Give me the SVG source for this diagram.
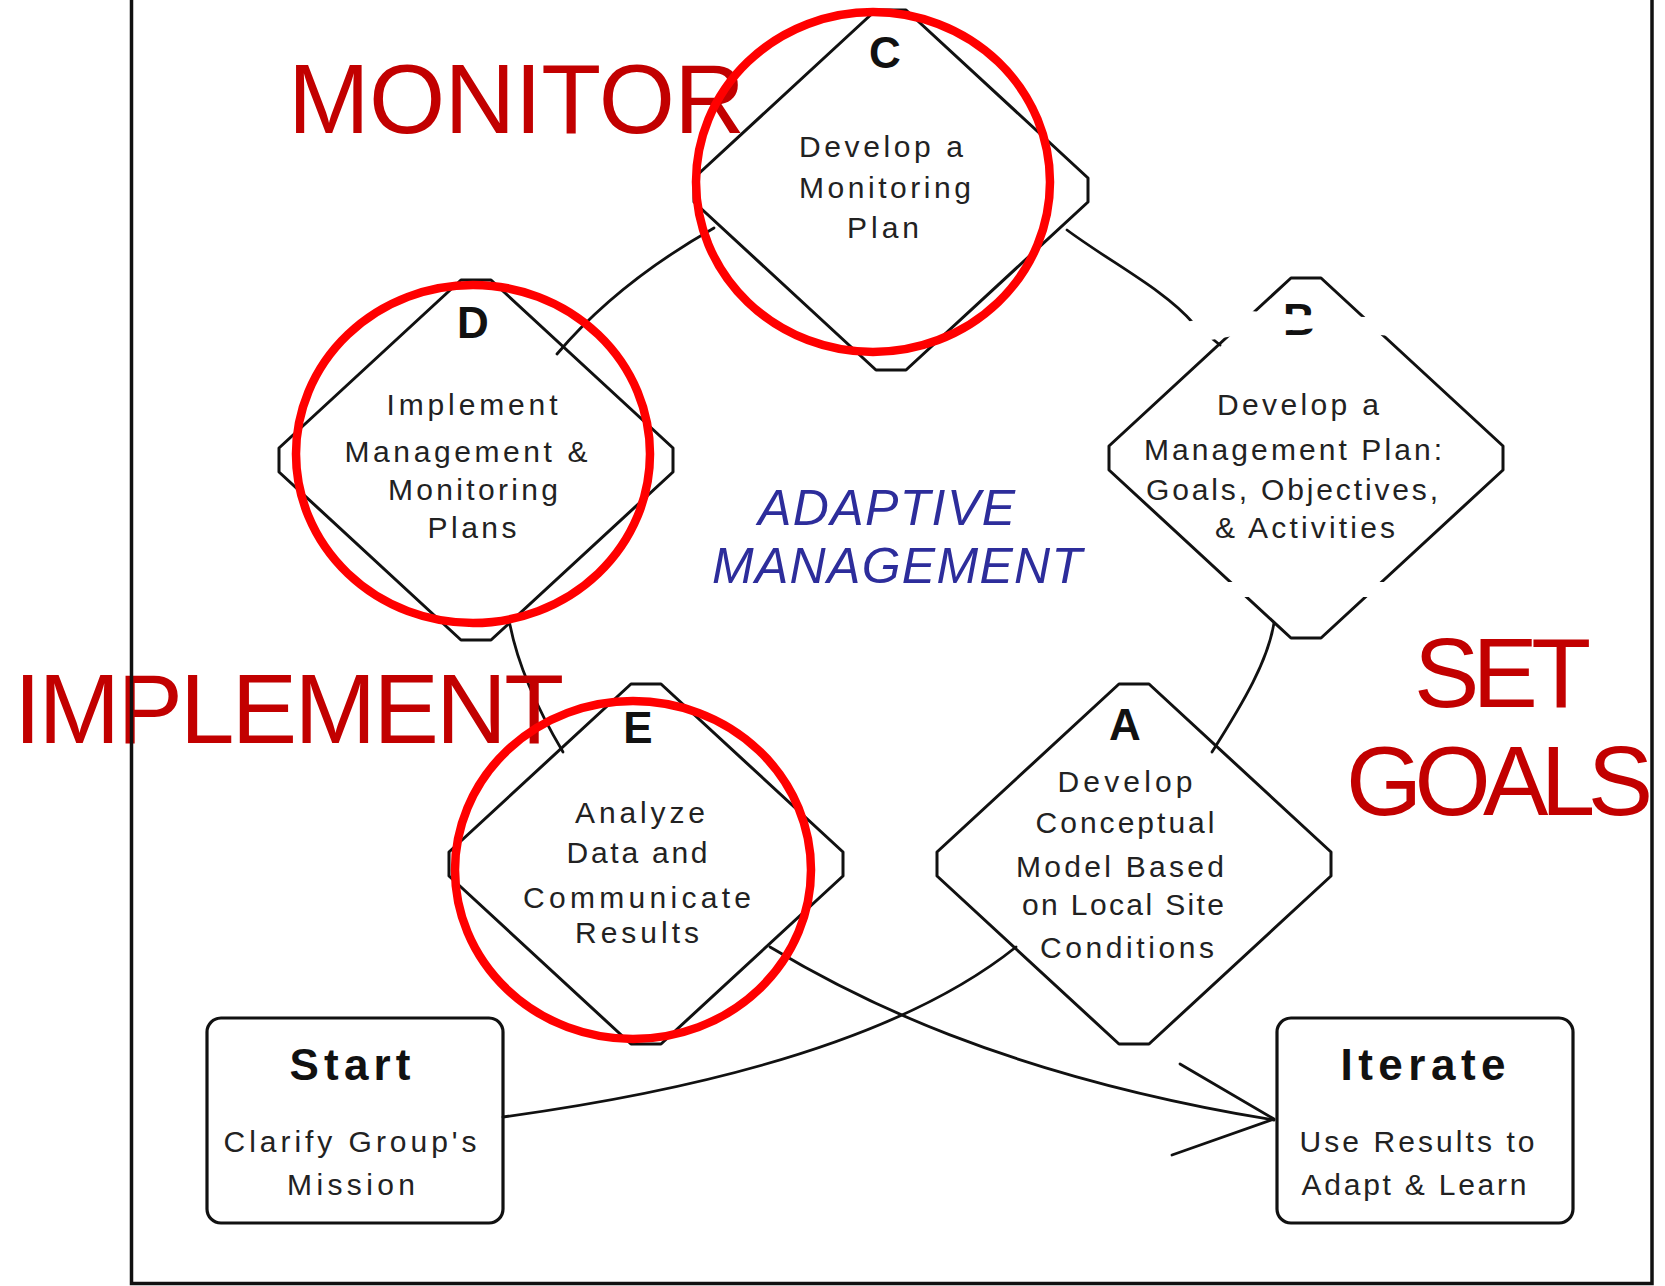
<svg xmlns="http://www.w3.org/2000/svg" xmlns:xlink="http://www.w3.org/1999/xlink" width="1665" height="1286" viewBox="0 0 1665 1286">
<style>
.dia{fill:none;stroke:#111;stroke-width:3;stroke-linejoin:round}
.box{fill:none;stroke:#111;stroke-width:3.2}
.con{fill:none;stroke:#111;stroke-width:2.8;stroke-linecap:round;stroke-linejoin:round}
.let{font-family:"Liberation Sans",Arial,sans-serif;font-size:44px;font-weight:bold;fill:#111;text-anchor:middle}
.t{font-family:"Liberation Sans",Arial,sans-serif;font-size:30px;fill:#222;text-anchor:middle}
.hd{font-family:"Liberation Sans",Arial,sans-serif;font-size:44px;font-weight:bold;fill:#111;text-anchor:middle}
.big{font-family:"Liberation Sans",Arial,sans-serif;font-size:98px;fill:#c20000}
.am{font-family:"Liberation Sans",Arial,sans-serif;font-style:italic;font-size:50px;fill:#2d2d9b}
.ring{fill:none;stroke:#ff0000;stroke-width:8.5}
.frame{stroke:#111;stroke-width:3.5;fill:none}
.wo{fill:#fff;stroke:none}
</style>
<defs>
<path id="dshape" d="M-15,-180 L15,-180 L197,-12 L197,12 L15,180 L-15,180 L-197,12 L-197,-12 Z"/>
</defs>
<rect width="1665" height="1286" fill="#fff"/>

<g id="connectors">
<path class="con" d="M557,354 C590,315 640,270 714,228"/>
<path class="con" d="M1067,230 C1110,262 1165,290 1193,323 L1220,345"/>
<path class="con" d="M510,625 C518,665 535,705 563,752"/>
<path class="con" d="M1274,623 C1268,660 1245,700 1212,752"/>
<path class="con" d="M503,1117 C700,1090 900,1040 1016,947"/>
<path class="con" d="M770,947 C850,995 1000,1075 1274,1120"/>
<path class="con" d="M1180,1064 L1274,1119 L1172,1155"/>
</g>

<g id="node-C">
<use xlink:href="#dshape" href="#dshape" class="dia" x="891" y="190"/>
<text class="let" x="885" y="68">C</text>
<text class="t" x="881" y="157" textLength="164">Develop a</text>
<text class="t" x="885" y="198" textLength="172">Monitoring</text>
<text class="t" x="883" y="238" textLength="72">Plan</text>
</g>

<g id="node-D">
<use xlink:href="#dshape" href="#dshape" class="dia" x="476" y="460"/>
<text class="let" x="473" y="338">D</text>
<text class="t" x="472" y="415" textLength="171">Implement</text>
<text class="t" x="466" y="462" textLength="243">Management &amp;</text>
<text class="t" x="473" y="500" textLength="170">Monitoring</text>
<text class="t" x="472" y="538" textLength="89">Plans</text>
</g>

<g id="node-B">
<use xlink:href="#dshape" href="#dshape" class="dia" x="1306" y="458"/>
<text class="let" x="1299" y="335">B</text>
<polygon class="wo" points="1185,322 1250,311 1300,315 1398,318 1398,337 1320,328 1250,333 1205,341 1185,341"/>
<rect class="wo" x="1150" y="582" width="250" height="15"/>
<text class="t" x="1298" y="415" textLength="162">Develop a</text>
<text class="t" x="1293" y="460" textLength="298">Management Plan:</text>
<text class="t" x="1292" y="500" textLength="292">Goals, Objectives,</text>
<text class="t" x="1305" y="538" textLength="180">&amp; Activities</text>
</g>

<g id="node-E">
<use xlink:href="#dshape" href="#dshape" class="dia" x="646" y="864"/>
<text class="let" x="638" y="743">E</text>
<text class="t" x="640" y="823" textLength="130">Analyze</text>
<text class="t" x="637" y="863" textLength="141">Data and</text>
<text class="t" x="637" y="908" textLength="228">Communicate</text>
<text class="t" x="637" y="943" textLength="124">Results</text>
</g>

<g id="node-A">
<use xlink:href="#dshape" href="#dshape" class="dia" x="1134" y="864"/>
<text class="let" x="1125" y="740">A</text>
<text class="t" x="1125" y="792" textLength="135">Develop</text>
<text class="t" x="1125" y="833" textLength="179">Conceptual</text>
<text class="t" x="1120" y="877" textLength="208">Model Based</text>
<text class="t" x="1123" y="915" textLength="202">on Local Site</text>
<text class="t" x="1127" y="958" textLength="174">Conditions</text>
</g>

<g id="node-start">
<rect class="box" x="207" y="1018" width="296" height="205" rx="14"/>
<text class="hd" x="350" y="1080" textLength="121">Start</text>
<text class="t" x="350" y="1152" textLength="253">Clarify Group's</text>
<text class="t" x="351" y="1195" textLength="128">Mission</text>
</g>

<g id="node-iterate">
<rect class="box" x="1277" y="1018" width="296" height="205" rx="14"/>
<text class="hd" x="1423" y="1080" textLength="165">Iterate</text>
<text class="t" x="1417" y="1152" textLength="235">Use Results to</text>
<text class="t" x="1414" y="1195" textLength="225">Adapt &amp; Learn</text>
</g>

<g id="center-label">
<text class="am" x="758" y="525" textLength="257">ADAPTIVE</text>
<text class="am" x="712" y="583" textLength="370">MANAGEMENT</text>
</g>

<g id="phase-labels">
<text class="big" x="288" y="133" textLength="457">MONITOR</text>
<text class="big" x="14" y="743" textLength="550">IMPLEMENT</text>
<text class="big" x="1414" y="707" textLength="177">SET</text>
<text class="big" x="1346" y="815" textLength="307">GOALS</text>
</g>

<g id="frame">
<path class="frame" d="M131.5,0 L131.5,1283.5 L1652,1283.5 L1652,0"/>
</g>

<g id="highlights">
<ellipse class="ring" cx="873" cy="182" rx="177" ry="170"/>
<ellipse class="ring" cx="473" cy="454" rx="177" ry="169"/>
<ellipse class="ring" cx="633" cy="870" rx="178" ry="169"/>
</g>
</svg>
